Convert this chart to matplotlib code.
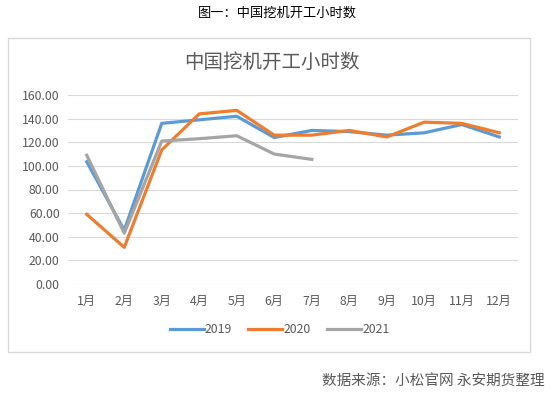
import matplotlib
matplotlib.use("Agg")
import matplotlib.pyplot as plt
from matplotlib.patches import Rectangle

plt.rcParams['font.family'] = ['Noto Sans CJK SC', 'DejaVu Sans']

months = ["1月", "2月", "3月", "4月", "5月", "6月", "7月", "8月", "9月", "10月", "11月", "12月"]
y2019 = [103.5, 45.5, 136, 139, 142, 124, 130, 129, 126, 128, 135, 124.5]
y2020 = [59, 31, 113.5, 144, 147, 126, 126, 130, 124.5, 137, 136, 128]
y2021 = [109, 43, 121, 123, 125.5, 110, 105.5]
yticks = [0, 20, 40, 60, 80, 100, 120, 140, 160]

W, H = 554, 396
fig = plt.figure(figsize=(W / 100, H / 100), dpi=100)

# outer chart border
fig.add_artist(Rectangle((8 / W, 1 - 352 / H), (530 - 8) / W, (352 - 38) / H,
                         transform=fig.transFigure, fill=False,
                         edgecolor='#D9D9D9', linewidth=1))

ax = fig.add_axes([68 / W, 1 - 284 / H, (518 - 68) / W, (284 - 95) / H])

x = list(range(len(months)))
ax.plot(x, y2019, color='#5B9BD5', lw=2.3, label='2019', solid_joinstyle='round')
ax.plot(x, y2020, color='#ED7D31', lw=2.3, label='2020', solid_joinstyle='round')
ax.plot(x[:len(y2021)], y2021, color='#A5A5A5', lw=2.3, label='2021', solid_joinstyle='round')

ax.set_xlim(-0.5, len(months) - 0.5)
ax.set_ylim(0, 160)
ax.set_yticks(yticks)
ax.set_yticklabels([f"{v:.2f}" for v in yticks])
ax.set_xticks(x)
ax.set_xticklabels(months)
ax.grid(axis='y', color='#D9D9D9', lw=0.8)
ax.set_axisbelow(True)
for s in ax.spines.values():
    s.set_visible(False)
ax.tick_params(axis='both', length=0, labelsize=8.8, colors='#595959', pad=6)
ax.tick_params(axis='x', pad=8)

ax.legend(loc='center', bbox_to_anchor=(0.47, -0.24), ncol=3, frameon=False,
          fontsize=8.8, labelcolor='#595959', handlelength=2.8, columnspacing=1.3,
          handletextpad=0.1)

fig.text(0.5, 1 - 13 / H, "图一：中国挖机开工小时数", ha='center', va='center',
         fontsize=9.5, color='#000000')
fig.text(272 / W, 1 - 62 / H, "中国挖机开工小时数", ha='center', va='center',
         fontsize=14, color='#595959')
fig.text(545 / W, 1 - 381 / H, "数据来源：小松官网 永安期货整理", ha='right', va='center',
         fontsize=10.5, color='#595959')

fig.savefig("out.png", dpi=100)
